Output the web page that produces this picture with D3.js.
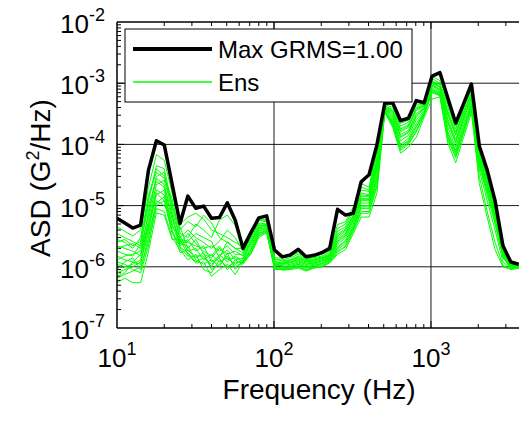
<!DOCTYPE html>
<html>
<head>
<meta charset="utf-8">
<script src="https://cdn.jsdelivr.net/npm/d3@7"></script>
<style>
body { margin: 0; background: #fff; }
text { font-family: Arial, "Liberation Sans", sans-serif; fill: #000; }
</style>
</head>
<body>
<script>
// 1/6-octave band centres (Hz)
var freq = [10.00, 11.22, 12.60, 14.14, 15.87, 17.82, 20.00, 22.45, 25.20, 28.28,
  31.75, 35.64, 40.00, 44.90, 50.40, 56.57, 63.50, 71.27, 80.00, 89.80,
  100.8, 113.1, 127.0, 142.5, 160.0, 179.6, 201.6, 226.3, 254.0, 285.1,
  320.0, 359.2, 403.2, 452.5, 508.0, 570.2, 640.0, 718.4, 806.3, 905.1,
  1016, 1140, 1280, 1437, 1613, 1810, 2032, 2281, 2560, 2874, 3225, 3620];

// envelope, G^2/Hz
var maxAsd = [6.2e-6, 5.2e-6, 4.3e-6, 4.8e-6, 3.8e-5, 1.15e-4, 9.8e-5, 2.25e-5, 5.1e-6, 1.43e-5,
  9.0e-6, 9.8e-6, 6.2e-6, 6.4e-6, 1.11e-5, 5.8e-6, 2.0e-6, 3.6e-6, 6.3e-6, 6.8e-6,
  1.88e-6, 1.45e-6, 1.56e-6, 1.93e-6, 1.46e-6, 1.54e-6, 1.70e-6, 2.0e-6, 8.7e-6, 7.0e-6,
  7.5e-6, 2.45e-5, 3.2e-5, 9.8e-5, 4.7e-4, 4.8e-4, 2.44e-4, 2.67e-4, 5.2e-4, 4.8e-4,
  1.31e-3, 1.49e-3, 5.7e-4, 2.24e-4, 4.6e-4, 9.7e-4, 9.4e-5, 3.8e-5, 1.2e-5, 2.2e-6,
  1.2e-6, 1.1e-6];

// ensemble members
var ens1 = [4.5e-6,3.8e-6,3.2e-6,4.0e-6, 2.0e-5,6.8e-5,5.5e-5,1.6e-5,
  5.0e-6,6.5e-6,7.5e-6,6.0e-6,4.0e-6,3.5e-6,3.0e-6,2.5e-6,2.2e-6,3.8e-6,6.0e-6,5.6e-6,1.4e-6,
  1.4e-6,1.5e-6,1.7e-6,1.4e-6,1.45e-6,1.6e-6,1.8e-6,
  4.9e-6,5.4e-6,9.5e-6,2.3e-5,2.0e-5,9.0e-5,
  4.7e-4,4.4e-4,2.4e-4,2.6e-4,5.0e-4,4.7e-4,1.3e-3,1.1e-3,5.3e-4,2.2e-4,4.5e-4,8.6e-4,
  9.0e-5,3.5e-5,1.1e-5,2.5e-6,1.15e-6,1.1e-6];
var ens2 = [3.5e-6,3.0e-6,2.6e-6,2.2e-6, 1.2e-5,4.5e-5,4.0e-5,1.0e-5,
  4.0e-6,5.5e-6,4.5e-6,7.0e-6,5.2e-6,3.0e-6,2.5e-6,2.0e-6,2.0e-6,3.5e-6,5.8e-6,5.4e-6,1.3e-6,
  1.3e-6,1.4e-6,1.6e-6,1.35e-6,1.4e-6,1.5e-6,1.7e-6,
  4.2e-6,5.0e-6,8.5e-6,2.0e-5,1.8e-5,8.0e-5,
  4.5e-4,4.0e-4,2.2e-4,2.5e-4,4.8e-4,4.6e-4,1.2e-3,1.0e-3,4.5e-4,2.0e-4,4.3e-4,8.0e-4,
  8.5e-5,3.2e-5,1.0e-5,2.4e-6,1.1e-6,1.08e-6];
var ens3 = [2.8e-6,2.5e-6,2.0e-6,3.0e-6, 1.5e-5,3.5e-5,2.8e-5,1.3e-5,
  3.5e-6,3.0e-6,5.0e-6,4.0e-6,3.0e-6,5.8e-6,7.0e-6,4.8e-6,2.3e-6,4.0e-6,6.2e-6,5.8e-6,1.35e-6,
  1.25e-6,1.3e-6,1.5e-6,1.3e-6,1.35e-6,1.45e-6,1.6e-6,
  3.8e-6,4.5e-6,8.0e-6,1.8e-5,1.7e-5,7.0e-5,
  4.3e-4,3.7e-4,2.0e-4,2.3e-4,4.4e-4,4.5e-4,1.1e-3,9.5e-4,4.0e-4,1.8e-4,4.0e-4,7.5e-4,
  8.0e-5,3.0e-5,9.0e-6,2.2e-6,1.1e-6,1.05e-6];
var ens4 = [2.2e-6,2.0e-6,1.8e-6,1.5e-6, 8.0e-6,3.0e-5,3.5e-5,8.0e-6,
  3.0e-6,4.0e-6,3.0e-6,2.5e-6,2.0e-6,2.6e-6,4.0e-6,3.0e-6,1.8e-6,3.2e-6,5.2e-6,5.0e-6,1.2e-6,
  1.2e-6,1.3e-6,1.4e-6,1.25e-6,1.3e-6,1.4e-6,1.55e-6,
  3.4e-6,4.2e-6,7.0e-6,1.6e-5,1.5e-5,6.0e-5,
  4.2e-4,3.5e-4,1.8e-4,2.1e-4,4.0e-4,4.4e-4,1.05e-3,9.0e-4,3.5e-4,1.6e-4,3.6e-4,7.0e-4,
  7.5e-5,2.8e-5,8.5e-6,2.0e-6,1.05e-6,1.05e-6];
var ens5 = [1.8e-6,1.6e-6,1.5e-6,2.4e-6, 1.0e-5,2.5e-5,2.0e-5,6.0e-6,
  2.6e-6,2.5e-6,2.2e-6,2.0e-6,2.2e-6,1.8e-6,2.2e-6,1.6e-6,1.6e-6,2.8e-6,4.8e-6,4.6e-6,1.1e-6,
  1.15e-6,1.2e-6,1.35e-6,1.2e-6,1.25e-6,1.35e-6,1.5e-6,
  3.0e-6,3.8e-6,6.5e-6,1.4e-5,1.4e-5,5.2e-5,
  4.0e-4,3.2e-4,1.6e-4,1.9e-4,3.6e-4,4.2e-4,1.0e-3,8.5e-4,3.0e-4,1.4e-4,3.2e-4,6.5e-4,
  7.0e-5,2.6e-5,8.0e-6,1.9e-6,1.05e-6,1.02e-6];
var ens6 = [1.5e-6,1.3e-6,1.2e-6,1.1e-6, 6.0e-6,2.2e-5,2.6e-5,9.0e-6,
  4.5e-6,2.0e-6,2.8e-6,1.6e-6,1.4e-6,2.0e-6,1.6e-6,1.8e-6,1.5e-6,2.6e-6,4.5e-6,4.8e-6,1.25e-6,
  1.1e-6,1.2e-6,1.3e-6,1.15e-6,1.2e-6,1.3e-6,1.45e-6,
  2.8e-6,3.5e-6,6.0e-6,1.3e-5,1.3e-5,4.5e-5,
  3.9e-4,3.0e-4,1.45e-4,1.7e-4,3.2e-4,4.0e-4,9.5e-4,8.0e-4,2.6e-4,1.2e-4,2.9e-4,6.0e-4,
  6.5e-5,2.4e-5,7.5e-6,1.8e-6,1.0e-6,1.0e-6];
var ens7 = [1.3e-6,1.5e-6,1.6e-6,1.8e-6, 5.0e-6,1.8e-5,1.5e-5,5.0e-6,
  2.2e-6,2.8e-6,1.8e-6,2.2e-6,1.2e-6,1.5e-6,1.9e-6,1.3e-6,1.4e-6,2.4e-6,4.2e-6,4.3e-6,1.05e-6,
  1.05e-6,1.1e-6,1.2e-6,1.1e-6,1.15e-6,1.25e-6,1.4e-6,
  2.5e-6,3.2e-6,5.5e-6,1.2e-5,1.2e-5,4.0e-5,
  3.8e-4,2.8e-4,1.3e-4,1.55e-4,2.8e-4,3.8e-4,9.0e-4,7.5e-4,2.2e-4,1.05e-4,2.6e-4,5.5e-4,
  6.0e-5,2.2e-5,7.0e-6,1.7e-6,1.0e-6,1.0e-6];
var ens8 = [1.1e-6,1.0e-6,1.1e-6,1.3e-6, 4.0e-6,1.5e-5,1.8e-5,4.5e-6,
  3.2e-6,1.8e-6,2.0e-6,1.3e-6,1.6e-6,1.2e-6,1.4e-6,1.1e-6,1.3e-6,2.2e-6,4.0e-6,4.0e-6,1.15e-6,
  1.0e-6,1.05e-6,1.15e-6,1.05e-6,1.1e-6,1.2e-6,1.35e-6,
  2.3e-6,3.0e-6,5.0e-6,1.1e-5,1.1e-5,3.5e-5,
  3.7e-4,2.6e-4,1.15e-4,1.4e-4,2.5e-4,3.6e-4,8.5e-4,7.0e-4,1.9e-4,9.0e-5,2.3e-4,5.0e-4,
  5.5e-5,2.0e-5,6.5e-6,1.6e-6,9.8e-7,9.8e-7];
var ens9 = [9.0e-7,1.2e-6,1.4e-6,9.0e-7, 3.0e-6,1.2e-5,1.0e-5,7.0e-6,
  2.0e-6,1.5e-6,1.5e-6,1.5e-6,1.0e-6,1.6e-6,1.2e-6,1.5e-6,1.2e-6,2.0e-6,3.8e-6,4.2e-6,1.0e-6,
  9.5e-7,1.0e-6,1.1e-6,1.0e-6,1.05e-6,1.15e-6,1.3e-6,
  2.1e-6,2.7e-6,4.6e-6,1.0e-5,1.0e-5,3.0e-5,
  3.6e-4,2.4e-4,1.0e-4,1.25e-4,2.2e-4,3.4e-4,8.0e-4,6.8e-4,1.6e-4,8.0e-5,2.0e-4,4.6e-4,
  5.0e-5,1.8e-5,6.0e-6,1.5e-6,9.5e-7,9.7e-7];
var ens10 = [8.0e-7,9.0e-7,1.0e-6,1.2e-6, 3.5e-6,1.0e-5,1.2e-5,3.5e-6,
  2.4e-6,2.2e-6,1.3e-6,1.1e-6,1.3e-6,1.0e-6,1.7e-6,9.0e-7,1.25e-6,1.9e-6,3.5e-6,3.8e-6,9.5e-7,
  9.2e-7,9.5e-7,1.05e-6,9.5e-7,1.0e-6,1.1e-6,1.25e-6,
  1.9e-6,2.4e-6,4.2e-6,9.0e-6,9.0e-6,2.5e-5,
  3.5e-4,2.2e-4,9.0e-5,1.1e-4,1.9e-4,3.2e-4,7.5e-4,6.5e-4,1.4e-4,7.0e-5,1.7e-4,4.2e-4,
  4.5e-5,1.5e-5,5.0e-6,1.4e-6,9.5e-7,9.6e-7];
var ens11 = [6.5e-7,7.5e-7,8.5e-7,1.0e-6, 2.5e-6,9.0e-6,8.0e-6,3.0e-6,
  1.9e-6,1.3e-6,1.6e-6,9.0e-7,8.0e-7,1.3e-6,1.0e-6,1.2e-6,1.15e-6,1.7e-6,3.2e-6,3.7e-6,9.0e-7,
  9.0e-7,9.5e-7,1.0e-6,8.8e-7,9.8e-7,1.05e-6,1.2e-6,
  1.8e-6,2.1e-6,3.8e-6,7.5e-6,7.5e-6,2.0e-5,
  3.4e-4,2.0e-4,8.0e-5,1.0e-4,1.6e-4,3.0e-4,7.0e-4,6.2e-4,1.2e-4,6.0e-5,1.5e-4,3.8e-4,
  3.0e-5,8.0e-6,2.5e-6,1.05e-6,9.2e-7,9.5e-7];
var ens12 = [5.5e-7,6.5e-7,5.5e-7,5.5e-7, 1.8e-6,7.6e-6,7.0e-6,2.8e-6,
  2.8e-6,1.6e-6,1.15e-6,1.2e-6,7.0e-7,9.0e-7,1.1e-6,7.5e-7,1.2e-6,1.6e-6,3.0e-6,3.6e-6,1.0e-6,
  8.8e-7,9.0e-7,9.5e-7,8.5e-7,9.5e-7,1.0e-6,1.15e-6,
  1.6e-6,1.9e-6,3.5e-6,6.5e-6,6.5e-6,1.6e-5,
  3.3e-4,1.9e-4,7.2e-5,9.0e-5,1.3e-4,2.8e-4,5.5e-4,6.0e-4,1.05e-4,5.0e-5,1.3e-4,3.3e-4,
  2.3e-5,6.5e-6,1.9e-6,1.0e-6,9.0e-7,9.5e-7];
var ens13 = [2.0e-6,2.2e-6,2.4e-6,2.0e-6, 7.0e-6,2.8e-5,2.2e-5,7.0e-6,
  2.4e-6,3.5e-6,2.4e-6,1.8e-6,1.5e-6,2.2e-6,1.3e-6,1.4e-6,1.35e-6,2.5e-6,4.4e-6,4.5e-6,1.1e-6,
  1.1e-6,1.15e-6,1.25e-6,1.1e-6,1.15e-6,1.25e-6,1.4e-6,
  2.6e-6,3.4e-6,5.8e-6,1.25e-5,1.25e-5,4.2e-5,
  3.8e-4,2.9e-4,1.35e-4,1.6e-4,3.0e-4,3.9e-4,9.2e-4,7.8e-4,2.4e-4,1.1e-4,2.7e-4,5.8e-4,
  6.2e-5,2.3e-5,7.2e-6,1.75e-6,1.0e-6,1.0e-6];
var ens14 = [1.2e-6,1.1e-6,9.0e-7,8.0e-7, 2.2e-6,1.1e-5,1.4e-5,4.0e-6,
  1.7e-6,1.9e-6,1.4e-6,1.7e-6,9.0e-7,1.1e-6,1.5e-6,1.0e-6,1.2e-6,1.8e-6,3.6e-6,3.9e-6,9.5e-7,
  9.5e-7,1.0e-6,1.1e-6,9.8e-7,1.05e-6,1.12e-6,1.28e-6,
  2.0e-6,2.6e-6,4.4e-6,9.5e-6,9.5e-6,2.8e-5,
  3.55e-4,2.3e-4,9.5e-5,1.15e-4,2.0e-4,3.3e-4,7.8e-4,6.6e-4,1.5e-4,7.5e-5,1.8e-4,4.4e-4,
  4.8e-5,1.7e-5,5.5e-6,1.45e-6,9.5e-7,9.6e-7];
var ens15 = [2.5e-6,2.8e-6,2.2e-6,2.6e-6, 1.3e-5,4.0e-5,3.0e-5,1.1e-5,
  2.8e-6,2.6e-6,3.5e-6,3.0e-6,2.6e-6,1.4e-6,2.6e-6,2.0e-6,1.7e-6,3.0e-6,5.0e-6,4.9e-6,1.15e-6,
  1.15e-6,1.25e-6,1.45e-6,1.22e-6,1.28e-6,1.38e-6,1.52e-6,
  3.2e-6,4.0e-6,6.8e-6,1.5e-5,1.45e-5,5.6e-5,
  4.1e-4,3.4e-4,1.7e-4,2.0e-4,3.8e-4,4.3e-4,1.02e-3,8.8e-4,3.2e-4,1.5e-4,3.4e-4,6.8e-4,
  7.2e-5,2.7e-5,8.2e-6,1.95e-6,1.05e-6,1.03e-6];
var ens16 = [7.0e-7,8.0e-7,1.2e-6,1.6e-6, 4.5e-6,1.6e-5,1.2e-5,3.8e-6,
  2.1e-6,1.7e-6,1.2e-6,1.4e-6,1.1e-6,1.4e-6,9.0e-7,1.3e-6,1.1e-6,1.65e-6,3.3e-6,3.9e-6,9.2e-7,
  9.0e-7,9.2e-7,1.0e-6,9.0e-7,9.6e-7,1.02e-6,1.18e-6,
  1.7e-6,2.2e-6,4.0e-6,8.0e-6,8.0e-6,2.2e-5,
  3.45e-4,2.1e-4,8.5e-5,1.05e-4,1.7e-4,3.1e-4,7.2e-4,6.3e-4,1.3e-4,6.5e-5,1.6e-4,4.0e-4,
  3.8e-5,1.2e-5,4.0e-6,1.2e-6,9.3e-7,9.5e-7];
var ensemble = [ens1, ens2, ens3, ens4, ens5, ens6, ens7, ens8,
  ens9, ens10, ens11, ens12, ens13, ens14, ens15, ens16];

var xDecades = [10, 100, 1000];
var xExp = ["1", "2", "3"];
var yDecades = [1e-7, 1e-6, 1e-5, 1e-4, 1e-3, 1e-2];
var yExp = ["-7", "-6", "-5", "-4", "-3", "-2"];
var legendLabels = ["Max GRMS=1.00", "Ens"];

var W = 519, H = 421;
var pL = 117, pT = 22, pB = 328, pR = 519;

var x = d3.scaleLog().domain([10, 4000]).range([pL, 525.5]);
var y = d3.scaleLog().domain([1e-7, 1e-2]).range([pB, pT]);

var svg = d3.select("body").append("svg")
  .attr("width", W).attr("height", H);

svg.append("defs").append("clipPath").attr("id", "plotclip")
  .append("rect").attr("x", pL).attr("y", pT)
  .attr("width", pR - pL).attr("height", pB - pT);

var isDecade = function(v) { return Math.abs(Math.log10(v) - Math.round(Math.log10(v))) < 1e-6; };

// grid
var grid = svg.append("g").attr("stroke", "#1a1a1a").attr("stroke-width", 1);
grid.selectAll(".gx").data(xDecades.slice(1)).enter().append("line")
  .attr("x1", d => x(d)).attr("x2", d => x(d))
  .attr("y1", pT).attr("y2", pB);
grid.selectAll(".gy").data(yDecades.slice(1, -1)).enter().append("line")
  .attr("x1", pL).attr("x2", pR)
  .attr("y1", d => y(d)).attr("y2", d => y(d));

// ticks (inward)
var ticks = svg.append("g").attr("stroke", "#000").attr("stroke-width", 1);
var xt = x.ticks().filter(d => d > 10);
ticks.selectAll(".tb").data(xt).enter().append("line")
  .attr("x1", d => x(d)).attr("x2", d => x(d))
  .attr("y1", pB).attr("y2", d => pB - (isDecade(d) ? 7 : 4));
ticks.selectAll(".tt").data(xt).enter().append("line")
  .attr("x1", d => x(d)).attr("x2", d => x(d))
  .attr("y1", pT).attr("y2", d => pT + (isDecade(d) ? 7 : 4));
var yt = y.ticks().filter(d => d > 1e-7 && d < 1e-2);
ticks.selectAll(".tl").data(yt).enter().append("line")
  .attr("x1", pL).attr("x2", d => pL + (isDecade(d) ? 7 : 4))
  .attr("y1", d => y(d)).attr("y2", d => y(d));

// data
var line = d3.line().x((d, i) => x(freq[i])).y(d => y(d));
var plot = svg.append("g").attr("clip-path", "url(#plotclip)");
plot.selectAll(".ens").data(ensemble).enter().append("path")
  .attr("d", line).attr("fill", "none")
  .attr("stroke", "#00ff00").attr("stroke-width", 1);
plot.append("path").datum(maxAsd).attr("d", line).attr("fill", "none")
  .attr("stroke", "#000").attr("stroke-width", 3.5).attr("stroke-linejoin", "round");

// axes box
var ax = svg.append("g").attr("stroke", "#000").attr("stroke-width", 1.5).attr("fill", "none");
ax.append("line").attr("x1", pL).attr("x2", pL).attr("y1", pT).attr("y2", pB);
ax.append("line").attr("x1", pL).attr("x2", pR).attr("y1", pT).attr("y2", pT);
ax.append("line").attr("x1", pL).attr("x2", pR).attr("y1", pB).attr("y2", pB);

// tick labels
function pow10(sel, e) {
  sel.append("tspan").text("10");
  sel.append("tspan").attr("dy", -12).attr("font-size", 18).text(e);
}
xDecades.forEach(function(d, i) {
  var t = svg.append("text").attr("x", x(d)).attr("y", 367)
    .attr("text-anchor", "middle").attr("font-size", 26);
  pow10(t, xExp[i]);
});
yDecades.forEach(function(d, i) {
  var t = svg.append("text").attr("x", 105).attr("y", y(d) + 11)
    .attr("text-anchor", "end").attr("font-size", 26);
  pow10(t, yExp[i]);
});

// axis titles
svg.append("text").attr("x", 319).attr("y", 399).attr("text-anchor", "middle")
  .attr("font-size", 28).text("Frequency (Hz)");
var yl = svg.append("text").attr("transform", "translate(50,178) rotate(-90)")
  .attr("text-anchor", "middle").attr("font-size", 28);
yl.append("tspan").text("ASD (G");
yl.append("tspan").attr("dy", -11).attr("font-size", 18).text("2");
yl.append("tspan").attr("dy", 11).text("/Hz)");

// legend
var lg = svg.append("g");
lg.append("rect").attr("x", 125).attr("y", 29).attr("width", 287).attr("height", 73)
  .attr("fill", "#fff").attr("stroke", "#000").attr("stroke-width", 1);
lg.append("line").attr("x1", 133).attr("x2", 212).attr("y1", 49).attr("y2", 49)
  .attr("stroke", "#000").attr("stroke-width", 4);
lg.append("line").attr("x1", 133).attr("x2", 212).attr("y1", 82).attr("y2", 82)
  .attr("stroke", "#00ff00").attr("stroke-width", 1.5);
lg.selectAll(".lt").data(legendLabels).enter().append("text")
  .attr("x", 218).attr("y", (d, i) => 58 + i * 33)
  .attr("font-size", 24).text(d => d);
</script>
</body>
</html>
